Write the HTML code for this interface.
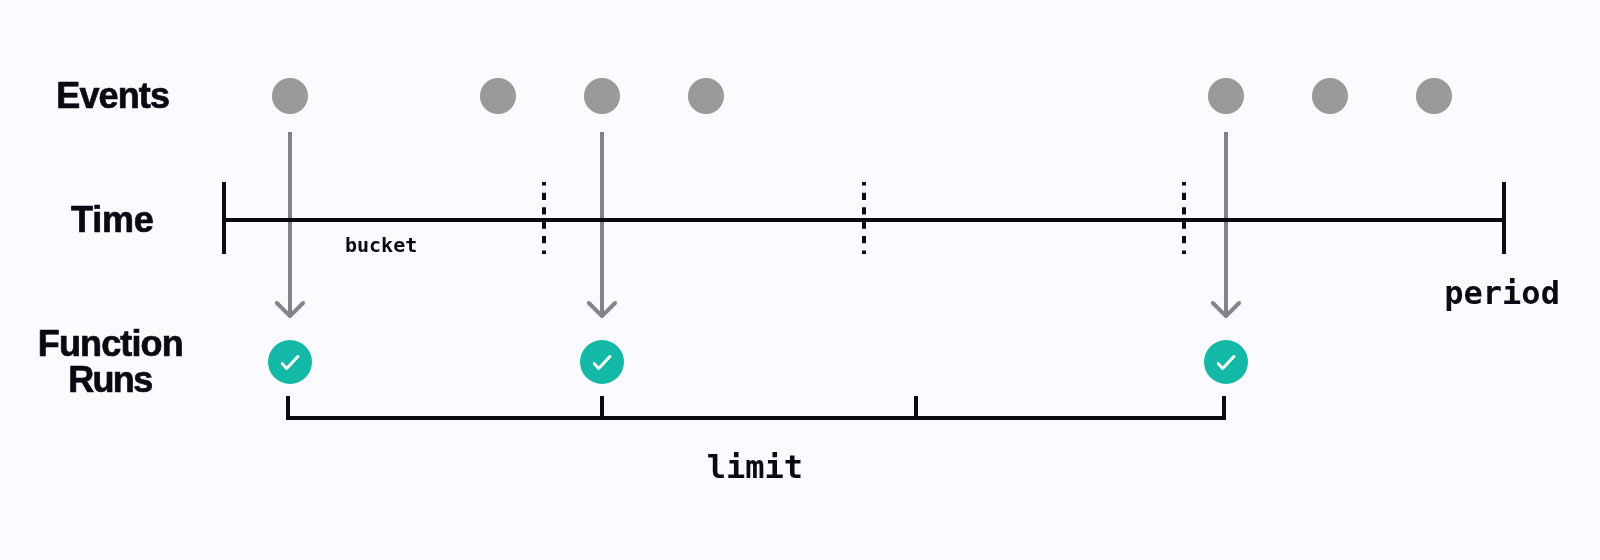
<!DOCTYPE html>
<html lang="en">
<head>
<meta charset="utf-8">
<title>Rate limit diagram</title>
<style>
  html, body { margin: 0; padding: 0; background: #fafaff; }
  body { width: 1600px; height: 560px; overflow: hidden; }
  svg { display: block; will-change: transform; }
  .lbl { font-family: "Liberation Sans", sans-serif; font-weight: 700; font-size: 36px; fill: #0a0a12; stroke: #0a0a12; stroke-width: 0.7px; stroke-linejoin: round; text-anchor: middle; }
  .mono { font-family: "DejaVu Sans Mono", "Liberation Mono", monospace; font-weight: 700; fill: #0a0a12; }
</style>
</head>
<body>
<svg width="1600" height="560" viewBox="0 0 1600 560">
  <rect width="1600" height="560" fill="#fafaff"/>

  <!-- row labels -->
  <text class="lbl" x="112.700" y="108" letter-spacing="-0.890">Events</text>
  <text class="lbl" x="112.250" y="232" letter-spacing="-0.230">Time</text>
  <text class="lbl" x="110.360" y="356" letter-spacing="-0.870">Function</text>
  <text class="lbl" x="109.900" y="392" letter-spacing="-1.730">Runs</text>

  <!-- events -->
  <g fill="#999999">
    <circle cx="290" cy="96" r="18"/>
    <circle cx="498" cy="96" r="18"/>
    <circle cx="602" cy="96" r="18"/>
    <circle cx="706" cy="96" r="18"/>
    <circle cx="1226" cy="96" r="18"/>
    <circle cx="1330" cy="96" r="18"/>
    <circle cx="1434" cy="96" r="18"/>
  </g>

  <!-- arrows -->
  <g stroke="#838288" stroke-width="4" fill="none">
    <path d="M290 132V316"/>
    <path d="M276.900 303L290 316.100L303.100 303" stroke-linecap="round" stroke-linejoin="round"/>
    <path d="M602 132V316"/>
    <path d="M588.900 303L602 316.100L615.100 303" stroke-linecap="round" stroke-linejoin="round"/>
    <path d="M1226 132V316"/>
    <path d="M1212.900 303L1226 316.100L1239.100 303" stroke-linecap="round" stroke-linejoin="round"/>
  </g>

  <!-- timeline -->
  <g stroke="#0a0a12" stroke-width="4" fill="none">
    <path d="M224 220H1504"/>
    <path d="M224 182V254"/>
    <path d="M1504 182V254"/>
    <path d="M544 182V254M864 182V254M1184 182V254" stroke-dasharray="7.200 7.200" stroke-dashoffset="3.600"/>
  </g>
  <text class="mono" x="345" y="252" font-size="20">bucket</text>
  <text class="mono" x="1444.300" y="304" font-size="32">period</text>

  <!-- function runs -->
  <g>
    <circle cx="290" cy="362" r="22" fill="#14b8a6"/>
    <path d="M282.300 363.700L286.700 368.500L297.900 356.500" stroke="#ffffff" stroke-width="3" fill="none" stroke-linecap="round" stroke-linejoin="round"/>
    <circle cx="602" cy="362" r="22" fill="#14b8a6"/>
    <path d="M594.300 363.700L598.700 368.500L609.900 356.500" stroke="#ffffff" stroke-width="3" fill="none" stroke-linecap="round" stroke-linejoin="round"/>
    <circle cx="1226" cy="362" r="22" fill="#14b8a6"/>
    <path d="M1218.300 363.700L1222.700 368.500L1233.900 356.500" stroke="#ffffff" stroke-width="3" fill="none" stroke-linecap="round" stroke-linejoin="round"/>
  </g>

  <!-- limit bracket -->
  <g stroke="#0a0a12" stroke-width="4" fill="none">
    <path d="M288 396V418H1224V396"/>
    <path d="M602 396V418M916 396V418"/>
  </g>
  <text class="mono" x="706.800" y="478" font-size="32">limit</text>
</svg>
</body>
</html>
